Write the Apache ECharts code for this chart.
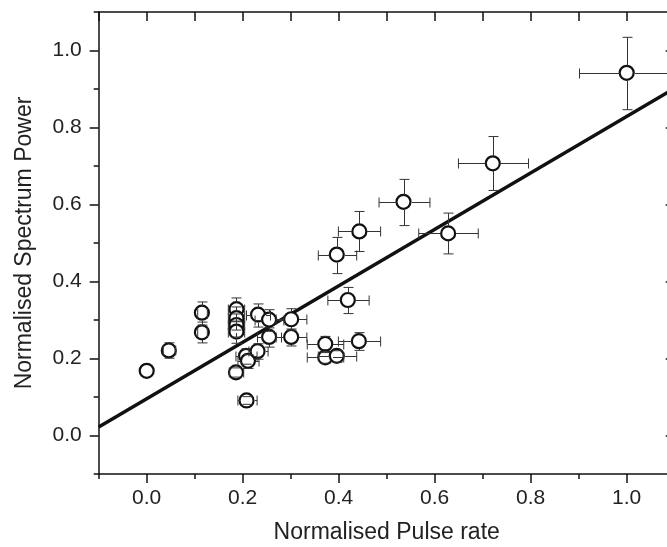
<!DOCTYPE html>
<html>
<head>
<meta charset="utf-8">
<script src="https://cdn.jsdelivr.net/npm/echarts@6/dist/echarts.min.js"></script>
<style>
  html, body { margin: 0; padding: 0; background: #fff; }
  #chart { width: 667px; height: 547px; }
</style>
</head>
<body>
<div id="chart"></div>
<script>
// values
const pulseRate = [0.0, 0.046, 0.115, 0.115, 0.187, 0.187, 0.187, 0.187, 0.186, 0.207, 0.211, 0.208, 0.232, 0.231, 0.255, 0.255, 0.301, 0.301, 0.372, 0.372, 0.396, 0.442, 0.419, 0.396, 0.443, 0.535, 0.628, 0.721, 1.0]
const spectrumPower = [0.168, 0.221, 0.319, 0.268, 0.328, 0.305, 0.287, 0.27, 0.164, 0.207, 0.194, 0.091, 0.314, 0.219, 0.301, 0.256, 0.302, 0.256, 0.238, 0.203, 0.207, 0.245, 0.352, 0.47, 0.53, 0.607, 0.525, 0.707, 0.942]
const pulseErr = [0, 0.013, 0.01, 0.01, 0.017, 0.017, 0.017, 0.017, 0.015, 0.022, 0.022, 0.02, 0.025, 0.02, 0.03, 0.025, 0.032, 0.032, 0.038, 0.038, 0.04, 0.044, 0.043, 0.04, 0.044, 0.053, 0.062, 0.073, 0.1]
const powerErr = [0, 0.02, 0.03, 0.027, 0.03, 0.03, 0.03, 0.028, 0.012, 0.02, 0.018, 0.01, 0.03, 0.02, 0.028, 0.025, 0.028, 0.022, 0.021, 0.015, 0.015, 0.023, 0.034, 0.047, 0.052, 0.06, 0.053, 0.07, 0.094]

// fitted line end points
const fitX = [-0.1, 1.1]
const fitY = [0.022, 0.902]

const majorTicks = [0, 0.2, 0.4, 0.6, 0.8, 1.0]

const font = "'Liberation Sans', Arial, sans-serif"
const ink = '#111'

const chart = echarts.init(document.getElementById('chart'))

const rect = { left: 98.7, top: 12, width: 576, height: 462, outerBoundsMode: 'none' }

function renderErr(params, api) {
  const c = api.coord([api.value(0), api.value(1)])
  const s = api.size([api.value(2), api.value(3)])
  const dx = s[0], dy = s[1]
  const r = 7.5, cap = 5
  const style = { stroke: '#333', lineWidth: 1 }
  const cx = Math.round(c[0]) + 0.5, cy = Math.round(c[1]) + 0.5
  const kids = []
  const seg = (x1, y1, x2, y2) => kids.push({ type: 'line', shape: { x1, y1, x2, y2 }, style })
  if (api.value(2) > 0) {
    if (dx > r) {
      seg(cx + r, cy, cx + dx, cy)
      seg(cx - r, cy, cx - dx, cy)
    }
    seg(cx + dx, cy - cap, cx + dx, cy + cap)
    seg(cx - dx, cy - cap, cx - dx, cy + cap)
  }
  if (api.value(3) > 0) {
    if (dy > r) {
      seg(cx, cy - r, cx, cy - dy)
      seg(cx, cy + r, cx, cy + dy)
    }
    seg(cx - cap, cy - dy, cx + cap, cy - dy)
    seg(cx - cap, cy + dy, cx + cap, cy + dy)
  }
  return { type: 'group', children: kids }
}

const axisBase = {
  type: 'value', min: -0.1, max: 1.1,
  splitLine: { show: false },
  axisLine: { show: true, onZero: false, lineStyle: { color: ink, width: 1.5 } }
}

chart.setOption({
  animation: false,
  backgroundColor: '#fff',
  grid: [Object.assign({}, rect), Object.assign({}, rect)],
  xAxis: [
    Object.assign({}, axisBase, {
      gridIndex: 0, position: 'bottom',
      axisTick: { show: true, inside: false, length: 9, customValues: majorTicks, lineStyle: { color: ink, width: 1.5 } },
      axisLabel: { show: true, customValues: majorTicks, margin: 14, fontSize: 21, color: '#222', fontFamily: font,
        formatter: v => v.toFixed(1) },
      name: 'Normalised Pulse rate', nameLocation: 'middle', nameGap: 47,
      nameTextStyle: { fontSize: 23, color: '#222', fontFamily: font }
    }),
    Object.assign({}, axisBase, {
      gridIndex: 0, position: 'top', interval: 0.1,
      axisTick: { show: true, inside: true, length: 9, lineStyle: { color: ink, width: 1.5 } },
      axisLabel: { show: false }
    }),
    Object.assign({}, axisBase, {
      gridIndex: 1, position: 'bottom', interval: 0.1,
      axisLine: { show: false, onZero: false },
      axisTick: { show: true, inside: false, length: 5, lineStyle: { color: ink, width: 1.5 } },
      axisLabel: { show: false }
    })
  ],
  yAxis: [
    Object.assign({}, axisBase, {
      gridIndex: 0, position: 'left',
      axisTick: { show: true, inside: false, length: 9, customValues: majorTicks, lineStyle: { color: ink, width: 1.5 } },
      axisLabel: { show: true, customValues: majorTicks, margin: 17, fontSize: 21, color: '#222', fontFamily: font,
        formatter: v => v.toFixed(1) },
      name: 'Normalised Spectrum Power', nameLocation: 'middle', nameGap: 63,
      nameTextStyle: { fontSize: 23, color: '#222', fontFamily: font }
    }),
    Object.assign({}, axisBase, {
      gridIndex: 0, position: 'right',
      axisTick: { show: true, inside: true, length: 9, customValues: majorTicks, lineStyle: { color: ink, width: 1.5 } },
      axisLabel: { show: false }
    }),
    Object.assign({}, axisBase, {
      gridIndex: 1, position: 'left', interval: 0.1,
      axisLine: { show: false, onZero: false },
      axisTick: { show: true, inside: false, length: 5, lineStyle: { color: ink, width: 1.5 } },
      axisLabel: { show: false }
    })
  ],
  series: [
    {
      type: 'line',
      xAxisIndex: 0, yAxisIndex: 0,
      data: fitX.map((x, i) => [x, fitY[i]]),
      symbol: 'none',
      lineStyle: { color: ink, width: 3.5 },
      z: 2
    },
    {
      type: 'scatter',
      xAxisIndex: 0, yAxisIndex: 0,
      data: pulseRate.map((x, i) => [x, spectrumPower[i]]),
      symbol: 'circle',
      symbolSize: 14,
      itemStyle: { color: '#fff', borderColor: ink, borderWidth: 2.2, opacity: 1 },
      z: 3
    },
    {
      type: 'custom',
      xAxisIndex: 0, yAxisIndex: 0,
      data: pulseRate.map((x, i) => [x, spectrumPower[i], pulseErr[i], powerErr[i]]),
      encode: { x: 0, y: 1 },
      renderItem: renderErr,
      clip: true,
      z: 4
    }
  ]
})
</script>
</body>
</html>
